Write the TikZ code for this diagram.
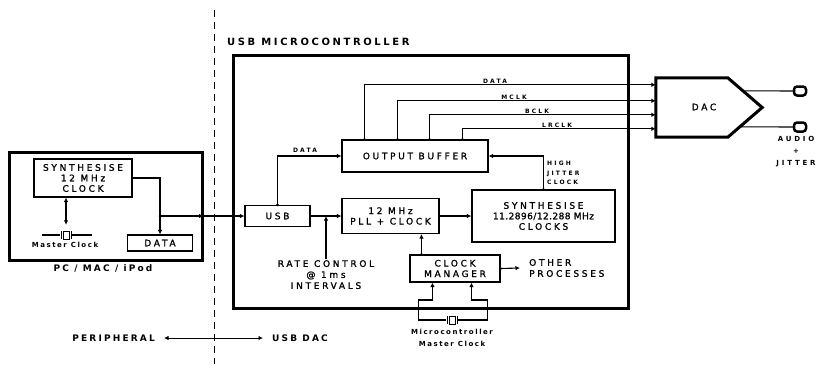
\documentclass[tikz,border=0pt]{standalone}
\usepackage{fontspec}
\setmainfont{DejaVu Sans}
\usetikzlibrary{arrows.meta,calc}
\newfontfamily\bxf[LetterSpace=30,FakeBold=1.2]{DejaVu Sans}
\newfontfamily\bxn[LetterSpace=5,FakeBold=1.2]{DejaVu Sans}
\newfontfamily\hdf[LetterSpace=24]{DejaVu Sans Bold}
\newfontfamily\ttf[LetterSpace=26]{DejaVu Sans Bold}
\newfontfamily\smf[LetterSpace=36]{DejaVu Sans Bold}
\newfontfamily\auf[LetterSpace=40]{DejaVu Sans Bold}
\newfontfamily\lbf[LetterSpace=22]{DejaVu Sans Bold}
\newcommand\drawxtal[1]{%
  \draw[line width=1pt] ($(#1.center)+(-3,-4)$) rectangle ($(#1.center)+(3,4)$);
  \draw[line width=1pt] ($(#1.center)+(-5,-4)$) -- ($(#1.center)+(-5,4)$);
  \draw[line width=1pt] ($(#1.center)+(5,-4)$) -- ($(#1.center)+(5,4)$);}
\begin{document}
\begin{tikzpicture}[x=1pt,y=-1pt,
  >={Latex[length=4.5pt,width=4.5pt]},
  ln/.style={line width=1.1pt},
  blk/.style={draw, line width=1.1pt, inner sep=0pt, align=center,
     font=\bxf\fontsize{9}{10.5}\selectfont},
  plain/.style={inner sep=1pt, align=center, font=\bxf\fontsize{9}{11}\selectfont},
  hd/.style={inner sep=1pt, font=\hdf\fontsize{9}{10}\selectfont},
  sm/.style={inner sep=1pt, align=center, font=\smf\fontsize{6}{9.5}\selectfont},
  lb/.style={inner sep=1pt, align=center, font=\lbf\fontsize{7}{12}\selectfont},
  xtal/.style={inner sep=0pt, minimum width=12pt, minimum height=10pt},
  jack/.style={draw, line width=2.5pt, fill=white, rounded corners=3pt, minimum width=12pt, minimum height=9pt, inner sep=0pt},
  dot/.style={circle, fill, inner sep=0pt, minimum size=3pt}]
\useasboundingbox (0,0) rectangle (818,364);
\fill[white] (0,0) rectangle (818,364);
% divider
\draw[line width=1pt, dash pattern=on 7pt off 5pt] (214,10) -- (214,364);
% PC side
\node[blk, line width=3pt, minimum width=193pt, minimum height=108pt] (pc) at (105.5,206) {};
\node[blk, minimum width=98pt, minimum height=38pt] (syn) at (83,178) {SYNTHESISE\\12 MHz\\CLOCK};
\node[blk, minimum width=65pt, minimum height=16pt] (data) at (160,243) {DATA};
\node[hd] (pclab) at (103,268) {PC / MAC / iPod};
\node[xtal] (xt1) at (66,235) {};
\drawxtal{xt1}
\draw[ln] (xt1.west) -- ++(-18,0);
\draw[ln] (xt1.east) -- ++(20,0);
\node[lb] (mck1) at (65,245) {Master Clock};
\draw[ln,<->] ($(xt1.north)+(0,-5)$) -- (syn.south -| xt1.north);
\draw[ln,->] (syn.east) -| (data.north);
\coordinate (j1) at (160,216);
\node[dot] at (syn.east) {};
\node[dot] at (j1) {};
% microcontroller
\node[blk, line width=3pt, minimum width=395pt, minimum height=253pt] (mc) at (430.5,181.5) {};
\node[inner sep=1pt, font=\ttf\fontsize{10}{11}\selectfont, anchor=west] (mclab) at (226,42) {USB MICROCONTROLLER};
\node[blk, minimum width=65pt, minimum height=21pt] (usb) at (277.5,216) {USB};
\node[blk, minimum width=97pt, minimum height=35pt] (pll) at (390.5,216) {12 MHz\\PLL + CLOCK};
\node[blk, minimum width=146pt, minimum height=32pt] (obuf) at (415,156) {OUTPUT BUFFER};
\node[blk, minimum width=143pt, minimum height=52pt] (syn2) at (543.5,216) {SYNTHESISE\\{\bxn 11.2896/12.288 MHz}\\CLOCKS};
\node[blk, minimum width=90pt, minimum height=27pt] (cmgr) at (455,268.5) {CLOCK\\MANAGER};
\node[plain, anchor=north] (rate) at (326,259) {RATE CONTROL\\@ 1ms\\INTERVALS};
\node[plain, anchor=west, align=left, inner xsep=9pt] (other) at (520,268) {OTHER\\PROCESSES};
% DAC
\node[inner sep=0pt, minimum width=106pt, minimum height=59pt] (dac) at (709,107.5) {};
\draw[line width=3pt, line join=miter] (dac.north west) -- ($(dac.north west)+(72,0)$) -- (dac.east)
   -- ($(dac.south west)+(72,0)$) -- (dac.south west) -- cycle;
\node[font=\bxf\fontsize{9}{10}\selectfont] (dactxt) at (704,107) {DAC};
\node[jack] (jk1) at (800,91) {};
\node[jack] (jk2) at (800,127) {};
\draw[ln] ($(dac.north west)+(87,13)$) -- (jk1.west);
\draw[ln] ($(dac.north west)+(83,49)$) -- (jk2.west);
\node[inner sep=1pt, align=center, font=\auf\fontsize{7}{12}\selectfont] (audio) at (796,152) {AUDIO\\+\\JITTER};
% connectors
\draw[ln,->] (j1) -- (j1 -| pc.east);
\draw[ln,->] (j1 -| pc.east) -- (usb.west);
\draw[ln,->] (usb.east) -- (pll.west);
\draw[ln,->] (rate.north) -- (rate.north |- usb.east);
\draw[ln,->] (usb.north) |- (obuf.west);
\node[dot] at (usb.north) {};
\node[sm] at (305,150) {DATA};
\foreach \ox/\dy/\nm/\lx in {23/7/DATA/495, 56/23/MCLK/514, 88/37/BCLK/537, 121/51/LRCLK/557}{
  \draw[ln,->] ($(obuf.north west)+(\ox,0)$) |- ($(dac.north west)+(0,\dy)$);
  \node[dot] at ($(obuf.north west)+(\ox,0)$) {};
  \node[sm, anchor=south] at ($(\lx,78)+(0,\dy)$) {\nm};
}
\draw[ln,->] (pll.east) -- (syn2.west);
\node[dot] at (pll.east) {};
\draw[ln,->] (syn2.north) |- (obuf.east);
\node[dot] at (syn2.north) {};
\node[sm, anchor=north west, align=left] at (546,160) {HIGH\\JITTER\\CLOCK};
\coordinate (c1) at ($(cmgr.north west)+(12,0)$);
\draw[ln,->] (c1) -- (c1 |- pll.south);
\node[dot] at (c1) {};
\draw[ln,->] (cmgr.east) -- (other.west);
\node[dot] at (cmgr.east) {};
% microcontroller master clock
\node[xtal] (xt2) at (452,320) {};
\drawxtal{xt2}
\coordinate (m1) at ($(cmgr.south west)+(23,0)$);
\coordinate (m2) at ($(cmgr.south west)+(62,0)$);
\draw[ln,->] (xt2.west) -- ++(-27,0) -- ++(0,-20) -| (m1);
\draw[ln,->] (xt2.east) -- ++(29,0) -- ++(0,-20) -| (m2);
\node[lb] (mck2) at (452,338) {Microcontroller\\Master Clock};
% bottom
\node[hd, anchor=east, inner xsep=9pt] (periph) at (164,338) {PERIPHERAL};
\node[hd, anchor=west, inner xsep=9pt] (usbdac) at (263,338) {USB DAC};
\draw[line width=0.9pt,<->] (periph.east) -- (usbdac.west);
\end{tikzpicture}
\end{document}
